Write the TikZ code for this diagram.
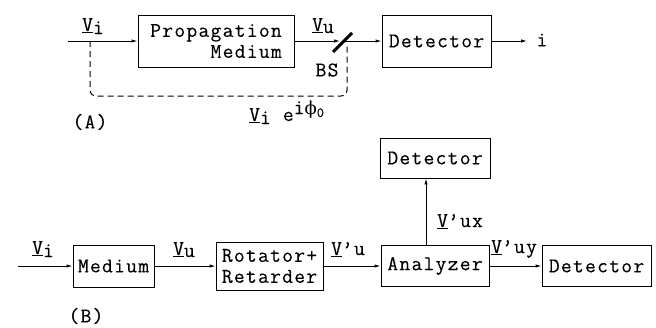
\documentclass[tikz,border=0pt]{standalone}
\usepackage{fontspec}
\setmainfont{Latin Modern Mono}[LetterSpace=6,FakeBold=0.15]
\newfontfamily\grk{DejaVu Serif}
\usetikzlibrary{arrows.meta,calc}

\begin{document}
\begin{tikzpicture}[x=1pt,y=-1pt,
  every node/.style={font=\fontsize{21}{21}\selectfont, inner sep=0pt},
  blk/.style={draw, line width=0.9pt, align=center},
  conn/.style={line width=0.9pt},
  arr/.style={conn, -{Latex[length=6pt,width=3.4pt]}},
  loopback/.style={line width=1pt, dash pattern=on 6pt off 4pt, rounded corners=6pt},
  lbl/.style={anchor=base west},
]
\fill[white] (0,0) rectangle (656,327);
\useasboundingbox (0,0) rectangle (656,327);

% ---------- (A) interferometric arrangement ----------
\node[blk, minimum width=156pt, minimum height=52pt, align=right] (pm) at (216,41) {Propagation\\Medium};
\node[blk, minimum width=109pt, minimum height=52pt] (detA) at (436.5,41) {Detector};
\coordinate (inA) at (68,41);
\coordinate (tap) at (90,41);
\coordinate (bs) at (343,41);
\coordinate (ret) at (347,46);
\coordinate (outA) at (527,41);

\draw[arr] (inA) -- (pm.west);
\draw[arr] (pm.east) -- ([xshift=-3pt]bs);
\draw[arr] (bs) -- (detA.west);
\draw[arr] (detA.east) -- (outA);
\draw[loopback] (tap) |- (347,96) -- (ret);
% beam splitter
\draw[line width=3pt] ($(bs)+(-10,11)$) -- ($(bs)+(9,-8)$);

\node[lbl] (viA) at (82,31) {\underline{V}\raisebox{-3pt}{i}};
\node[lbl] (vuA) at (312,31) {\underline{V}\raisebox{-2pt}{u}};
\node (bsl) at (327,70) {BS};
\node (iA) at (542,40) {i};
\node[lbl] (ref) at (249,121) {\underline{V}\raisebox{-3pt}{i} e\raisebox{7pt}{i{\grk\fontsize{18}{18}\selectfont ϕ}\raisebox{-3pt}{\fontsize{14}{14}\selectfont 0}}};
\node (capA) at (90,122) {(A)};

% ---------- (B) polarimetric arrangement ----------
\node[blk, minimum width=81pt, minimum height=42pt] (med) at (113.5,266) {Medium};
\node[blk, minimum width=107pt, minimum height=48pt] (rot) at (269.5,266) {Rotator+\\Retarder};
\node[blk, minimum width=108pt, minimum height=41pt] (an) at (435,266) {Analyzer};
\node[blk, minimum width=109pt, minimum height=41pt] (detR) at (596.5,266) {Detector};
\node[blk, minimum width=110pt, minimum height=40pt] (detT) at (435,158) {Detector};
\coordinate (inB) at (18,266);

\draw[arr] (inB) -- (med.west);
\draw[arr] (med.east) -- (rot.west);
\draw[arr] (rot.east) -- (an.west);
\draw[arr] (an.east) -- (detR.west);
\draw[arr] ([xshift=-9pt]an.north) -- ([xshift=-9pt]detT.south);

\node[lbl] (viB) at (32,254) {\underline{V}\raisebox{-3pt}{i}};
\node[lbl] (vuB) at (173,255) {\underline{V}\raisebox{-2pt}{u}};
\node[lbl] (vpu) at (331,255) {\underline{V}'u};
\node[lbl] (vpuy) at (491,253) {\underline{V}'uy};
\node[lbl] (vpux) at (437,227) {\underline{V}'ux};
\node (capB) at (86,316) {(B)};
\end{tikzpicture}
\end{document}
